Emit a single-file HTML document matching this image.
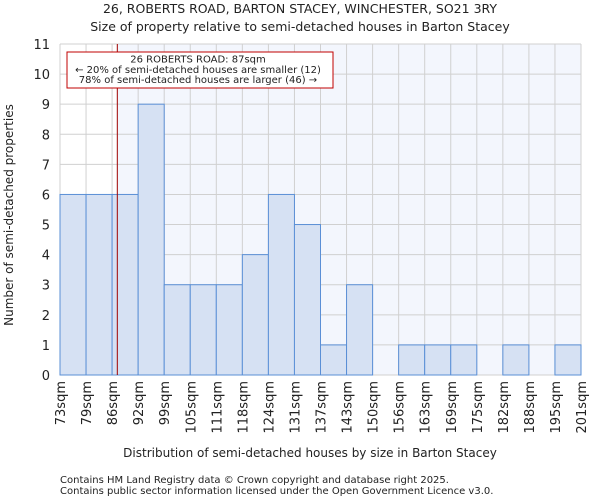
<!DOCTYPE html>
<html><head><meta charset="utf-8"><style>
body{margin:0;background:#fff;font-family:"DejaVu Sans","Liberation Sans",sans-serif}
svg text{font-family:"DejaVu Sans","Liberation Sans",sans-serif;fill:#222}
</style></head><body>
<svg id="c" width="600" height="500" xmlns="http://www.w3.org/2000/svg">
<text x="300" y="13" font-size="12.5" text-anchor="middle">26, ROBERTS ROAD, BARTON STACEY, WINCHESTER, SO21 3RY</text>
<text x="300" y="31" font-size="12.5" text-anchor="middle">Size of property relative to semi-detached houses in Barton Stacey</text>
<g id="plot"></g>
<text x="310" y="457" font-size="12" text-anchor="middle">Distribution of semi-detached houses by size in Barton Stacey</text>
<text transform="translate(13,215) rotate(-90)" font-size="12" text-anchor="middle">Number of semi-detached properties</text>
<text x="60" y="483" font-size="10">Contains HM Land Registry data © Crown copyright and database right 2025.</text>
<text x="60" y="494" font-size="10">Contains public sector information licensed under the Open Government Licence v3.0.</text>
</svg>
<script>
const binLabels=["73sqm","79sqm","86sqm","92sqm","99sqm","105sqm","111sqm","118sqm","124sqm","131sqm","137sqm","143sqm","150sqm","156sqm","163sqm","169sqm","175sqm","182sqm","188sqm","195sqm","201sqm"];
const counts=[6,6,6,9,3,3,3,4,6,5,1,3,0,1,1,1,0,1,0,1];
const yTicks=[0,1,2,3,4,5,6,7,8,9,10,11];
const markerBinPos=[2.2];
const NS="http://www.w3.org/2000/svg";
const g=document.getElementById('plot');
const X0=60,X1=581,Y0=375,Y1=44,YMAX=11;
const bw=(X1-X0)/counts.length;
const xs=i=>X0+i*bw;
const ys=v=>Y0-(Y0-Y1)*v/YMAX;
function mk(t,a){const e=document.createElementNS(NS,t);for(const k in a)e.setAttribute(k,a[k]);g.appendChild(e);return e;}
const mx=xs(markerBinPos[0]);
let e;
e=mk('rect',{x:X0,y:Y1,width:X1-X0,height:Y0-Y1,fill:'#fff'});


e=mk('rect',{x:mx,y:Y1,width:X1-mx,height:Y0-Y1,fill:'#f3f6fd'});


for(let i=0;i<=counts.length;i++){
 e=mk('line',{x1:xs(i),x2:xs(i),y1:Y1,y2:Y0,stroke:'#d0d0d0','stroke-width':1});
 
 
}
yTicks.forEach(t=>{
 e=mk('line',{x1:X0,x2:X1,y1:ys(t),y2:ys(t),stroke:'#d0d0d0','stroke-width':1});
 
 
 e=mk('text',{x:X0-10,y:ys(t)+5,'font-size':13,'text-anchor':'end'});e.textContent=t;
 
 
});
counts.forEach((v,i)=>{
 if(v<=0)return;
 e=mk('rect',{x:xs(i),y:ys(v),width:bw,height:Y0-ys(v),fill:'#d6e1f3',stroke:'#5a8fd6','stroke-width':1});
 
 
});
binLabels.forEach((l,i)=>{
 const x=xs(i);
 e=mk('text',{transform:`translate(${x+5},${Y0+6}) rotate(-90)`,'font-size':13,'text-anchor':'end'});e.textContent=l;
 
 
});
e=mk('line',{x1:mx,x2:mx,y1:Y1,y2:Y0,stroke:'#a00000','stroke-width':1});


e=mk('rect',{x:67,y:52,width:266,height:36,fill:'#fff',stroke:'#c00000','stroke-width':1});


["26 ROBERTS ROAD: 87sqm","← 20% of semi-detached houses are smaller (12)","78% of semi-detached houses are larger (46) →"].forEach((s,i)=>{
 e=mk('text',{x:198,y:62.5+i*10.3,'font-size':10,'text-anchor':'middle'});e.textContent=s;
 
 
});
</script>
</body></html>
